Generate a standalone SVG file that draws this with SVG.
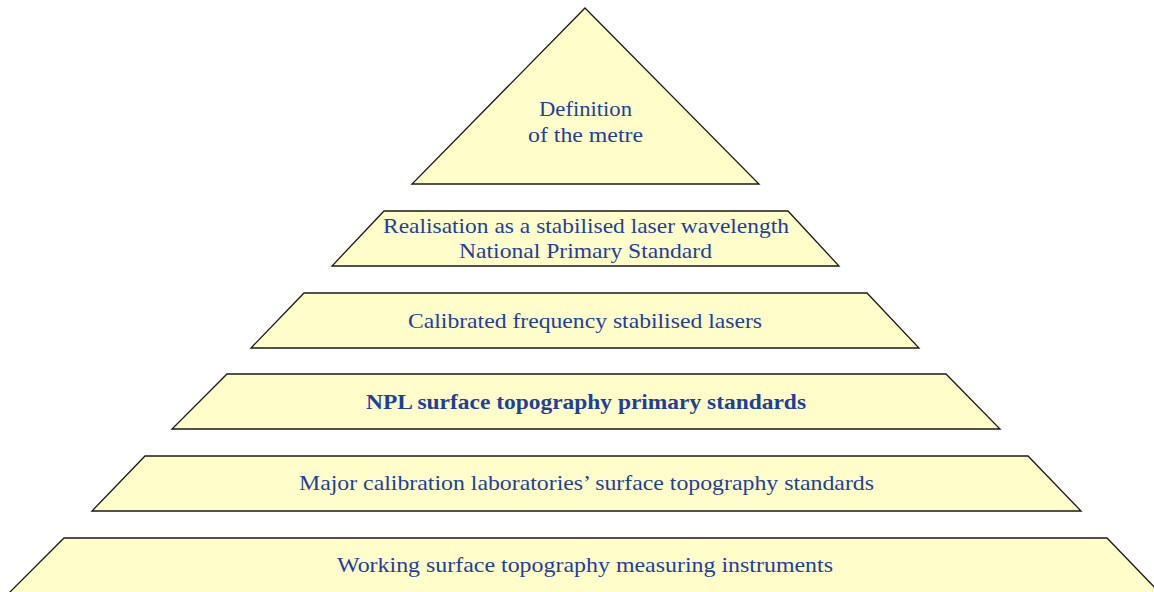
<svg xmlns="http://www.w3.org/2000/svg" width="1154" height="592" viewBox="0 0 1154 592">
<style>
.shape{fill:#FFFDC9;stroke:#1a1a1a;stroke-width:1.3;stroke-linejoin:miter}
.t{font-family:"Liberation Serif","DejaVu Serif",serif;font-size:22px;fill:#1F3F9C;text-anchor:middle}
.b{font-weight:bold}
</style>
<rect width="1154" height="592" fill="#ffffff"/>
<g id="level0">
<polygon class="shape" points="585,8 759,184 412,184"/>
<text class="t" x="585.5" y="116" textLength="93" lengthAdjust="spacingAndGlyphs">Definition</text>
<text class="t" x="585.5" y="142" textLength="115" lengthAdjust="spacingAndGlyphs">of the metre</text>
</g>
<g id="level1">
<polygon class="shape" points="384,211 788,211 839,266 332,266"/>
<text class="t" x="586" y="233" textLength="406" lengthAdjust="spacingAndGlyphs">Realisation as a stabilised laser wavelength</text>
<text class="t" x="585.5" y="258" textLength="253" lengthAdjust="spacingAndGlyphs">National Primary Standard</text>
</g>
<g id="level2">
<polygon class="shape" points="304,293 867,293 919,348 251,348"/>
<text class="t" x="585" y="328" textLength="354" lengthAdjust="spacingAndGlyphs">Calibrated frequency stabilised lasers</text>
</g>
<g id="level3">
<polygon class="shape" points="227,374 946,374 1000,429 172,429"/>
<text class="t b" x="586" y="409" textLength="440" lengthAdjust="spacingAndGlyphs">NPL surface topography primary standards</text>
</g>
<g id="level4">
<polygon class="shape" points="145,456 1028,456 1081,511 92,511"/>
<text class="t" x="586.5" y="490" textLength="575" lengthAdjust="spacingAndGlyphs">Major calibration laboratories’ surface topography standards</text>
</g>
<g id="level5">
<polygon class="shape" points="64,538 1107,538 1161,594 8,594"/>
<text class="t" x="585" y="572" textLength="496" lengthAdjust="spacingAndGlyphs">Working surface topography measuring instruments</text>
</g>
<g id="connectors"></g>
</svg>
